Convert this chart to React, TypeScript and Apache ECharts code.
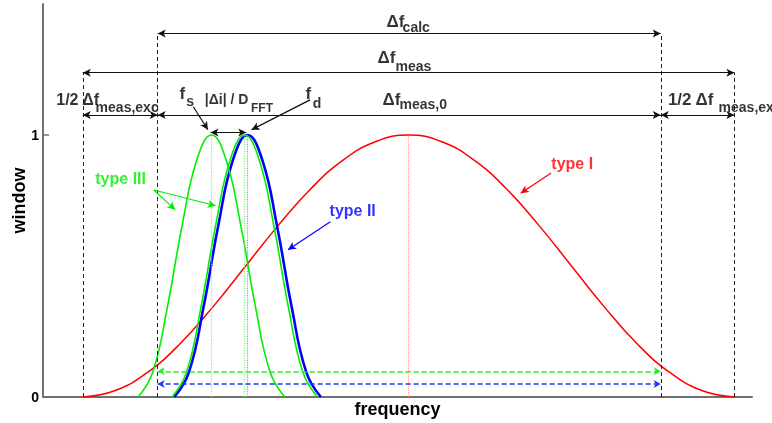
import React, { useEffect, useRef } from 'react';
import * as echarts from 'echarts';

// ---- data (frequency in arbitrary units, window 0..1) ----
const xRange = [-6.1, 102.7];
const yRange = [0, 1.5];
const yTicks = [0, 1];

// type I window (red)
const redX = [0, 5, 10, 15, 20, 25, 30, 35, 40, 45, 50, 55, 60, 65, 70, 75, 80, 85, 90, 95, 100];
const redY = [0, 0.025, 0.095, 0.205, 0.345, 0.5, 0.655, 0.795, 0.905, 0.975, 1, 0.975, 0.905, 0.795, 0.655, 0.5, 0.345, 0.205, 0.095, 0.025, 0];

// type II window (blue)
const blueX = [14.05, 16.3, 18.55, 20.8, 23.05, 25.3, 27.55, 29.8, 32.05, 34.3, 36.55];
const blueY = [0, 0.095, 0.345, 0.655, 0.905, 1, 0.905, 0.655, 0.345, 0.095, 0];

// type III windows (green), at f_s and at f_d
const greenSX = [8.5, 10.75, 13, 15.25, 17.5, 19.75, 22, 24.25, 26.5, 28.75, 31];
const greenSY = [0, 0.095, 0.345, 0.655, 0.905, 1, 0.905, 0.655, 0.345, 0.095, 0];
const greenDX = [13.7, 15.93, 18.16, 20.39, 22.62, 24.85, 27.08, 29.31, 31.54, 33.77, 36.0];
const greenDY = [0, 0.095, 0.345, 0.655, 0.905, 1, 0.905, 0.655, 0.345, 0.095, 0];

// band edges
const edgeOuter = [0, 100];
const edgeInner = [11.5, 88.7];
const levelCalc = 1.387;
const levelMeas = 1.238;
const levelRow = 1.076;
const levelDi = 1.01;
const levelGreen = 0.098;
const levelBlue = 0.05;

// centres (dotted lines)
const centreRed = 50;
const centreGreenS = 19.75;
const centreGreenD = 24.85;
const centreBlue = 25.3;

// ---- annotation geometry (data coordinates) ----
type Seg = [number, number, number, number];
const blackDouble: Seg[] = [
  [edgeInner[0], levelCalc, edgeInner[1], levelCalc],
  [edgeOuter[0], levelMeas, edgeOuter[1], levelMeas],
  [edgeOuter[0], levelRow, edgeInner[0], levelRow],
  [edgeInner[0], levelRow, edgeInner[1], levelRow],
  [edgeInner[1], levelRow, edgeOuter[1], levelRow],
  [19.6, levelDi, 25.1, levelDi],
];
const blackSingle: Seg[] = [
  [16.97, 1.108, 19.2, 1.02],
  [34.88, 1.134, 25.9, 1.02],
];
const dashedEdges: Seg[] = [
  [edgeOuter[0], 0, edgeOuter[0], levelMeas],
  [edgeInner[0], 0, edgeInner[0], levelCalc],
  [edgeInner[1], 0, edgeInner[1], levelCalc],
  [edgeOuter[1], 0, edgeOuter[1], levelMeas],
];
const greenArrows: Seg[] = [
  [10.9, 0.79, 14.2, 0.715],
  [10.9, 0.79, 20.4, 0.73],
];
const blueArrows: Seg[] = [[38.0, 0.669, 31.5, 0.562]];
const redArrows: Seg[] = [[71.87, 0.855, 67.2, 0.778]];
const greenDashed: Seg[] = [[edgeInner[0], levelGreen, edgeInner[1], levelGreen]];
const blueDashed: Seg[] = [[edgeInner[0], levelBlue, edgeInner[1], levelBlue]];

// ---- text annotations (data coordinates, left aligned, middle) ----
type Lbl = { t: string; x: number; y: number; s: number; c: string };
const BIG = 17;
const SUB = 14;
const labels: Lbl[] = [
  { t: 'Δf', x: 46.7, y: 1.433, s: BIG, c: '#000' },
  { t: 'calc', x: 49.16, y: 1.412, s: SUB, c: '#000' },
  { t: 'Δf', x: 45.32, y: 1.292, s: BIG, c: '#000' },
  { t: 'meas', x: 48.08, y: 1.261, s: SUB, c: '#000' },
  { t: 'Δf', x: 46.09, y: 1.134, s: BIG, c: '#000' },
  { t: 'meas,0', x: 48.69, y: 1.115, s: SUB, c: '#000' },
  { t: '1/2 Δf', x: -3.99, y: 1.135, s: 16, c: '#000' },
  { t: 'meas,exc', x: 2.05, y: 1.105, s: SUB, c: '#000' },
  { t: '1/2 Δf', x: 89.87, y: 1.134, s: BIG, c: '#000' },
  { t: 'meas,exc', x: 97.65, y: 1.105, s: SUB, c: '#000' },
  { t: 'f', x: 14.93, y: 1.158, s: BIG, c: '#000' },
  { t: 's', x: 15.96, y: 1.126, s: SUB, c: '#000' },
  { t: '|Δi| / D', x: 18.8, y: 1.134, s: 14, c: '#000' },
  { t: 'FFT', x: 25.9, y: 1.103, s: 12, c: '#000' },
  { t: 'f', x: 34.27, y: 1.155, s: BIG, c: '#000' },
  { t: 'd', x: 35.39, y: 1.122, s: SUB, c: '#000' },
  { t: 'type III', x: 2.0, y: 0.832, s: 16, c: '#00ee00' },
  { t: 'type II', x: 37.95, y: 0.71, s: 16, c: '#0000ff' },
  { t: 'type I', x: 71.98, y: 0.891, s: 16, c: '#ff0000' },
];

const FONT = '"Liberation Sans", Arial, Helvetica, sans-serif';
const zip = (xs: number[], ys: number[]) => xs.map((x, i) => [x, ys[i]]);

function markSeries(segs: Seg[], color: string, type: any, width: number, symbol: string[], size: number[] = [7, 9], opacity = 1) {
  return {
    type: 'line',
    data: [],
    silent: true,
    markLine: {
      silent: true,
      animation: false,
      symbol,
      symbolSize: size,
      label: { show: false },
      emphasis: { disabled: true },
      lineStyle: { color, type, width, opacity },
      itemStyle: { color },
      data: segs.map(([x1, y1, x2, y2]) => [{ coord: [x1, y1] }, { coord: [x2, y2] }]),
    },
  };
}

function curve(xs: number[], ys: number[], color: string, width: number) {
  return {
    type: 'line',
    data: zip(xs, ys),
    smooth: 0.45,
    showSymbol: false,
    symbol: 'none',
    silent: true,
    lineStyle: { color, width },
    itemStyle: { color },
  };
}

const vertical = (x: number): Seg => [x, 0, x, 1];

export default function App() {
  const ref = useRef<HTMLDivElement>(null);
  useEffect(() => {
    const chart = echarts.init(ref.current!, null, { renderer: 'svg' });
    const axisGray = '#707070';
    const option: any = {
      animation: false,
      grid: { left: 43, right: 20, top: 4, bottom: 26, outerBoundsMode: 'none' },
      xAxis: {
        type: 'value',
        min: xRange[0],
        max: xRange[1],
        axisLine: { show: true, onZero: false, lineStyle: { color: axisGray, width: 2 } },
        axisTick: { show: false },
        axisLabel: { show: false },
        splitLine: { show: false },
        name: 'frequency',
        nameLocation: 'middle',
        nameGap: 3,
        nameMoveOverlap: false,
        nameTextStyle: { fontFamily: FONT, fontWeight: 'bold', fontSize: 18, color: '#000', verticalAlign: 'top' },
      },
      yAxis: {
        type: 'value',
        min: yRange[0],
        max: yRange[1],
        axisLine: { show: true, onZero: false, lineStyle: { color: axisGray, width: 2 } },
        axisTick: { show: true, inside: true, length: 6, customValues: yTicks, lineStyle: { color: axisGray, width: 1.5 } },
        axisLabel: {
          customValues: yTicks,
          margin: 4,
          fontFamily: FONT,
          fontWeight: 'bold',
          fontSize: 14,
          color: '#000',
        },
        splitLine: { show: false },
        name: 'window',
        nameLocation: 'middle',
        nameRotate: 90,
        nameGap: 15,
        nameMoveOverlap: false,
        nameTextStyle: { fontFamily: FONT, fontWeight: 'bold', fontSize: 18, color: '#000' },
      },
      series: [
        markSeries([vertical(centreRed)], '#ff8080', 'dotted', 1, ['none', 'none'], [0, 0], 0.8),
        markSeries([vertical(centreGreenS)], '#80ee80', 'dotted', 1.2, ['none', 'none'], [0, 0], 0.9),
        markSeries([vertical(centreBlue)], '#8080ff', 'dotted', 1.2, ['none', 'none'], [0, 0], 0.9),
        markSeries([vertical(centreGreenD)], '#80ee80', 'dotted', 1.2, ['none', 'none'], [0, 0], 0.9),
        markSeries(dashedEdges, '#222', [4, 3], 1, ['none', 'none'], [0, 0]),
        curve(redX, redY, '#ff0000', 1.5),
        curve(blueX, blueY, '#0000ff', 2.6),
        curve(greenSX, greenSY, '#00ee00', 1.6),
        curve(greenDX, greenDY, '#00ee00', 1.6),
        markSeries(blackDouble, '#111', 'solid', 1.2, ['arrow', 'arrow'], [6, 8]),
        markSeries(blackSingle, '#111', 'solid', 1.2, ['none', 'arrow'], [6, 8]),
        markSeries(greenArrows, '#00ee00', 'solid', 1.2, ['none', 'arrow'], [6, 8]),
        markSeries(blueArrows, '#0000ff', 'solid', 1.2, ['none', 'arrow'], [6, 8]),
        markSeries(redArrows, '#ff0000', 'solid', 1.2, ['none', 'arrow'], [6, 8]),
        markSeries(greenDashed, '#22ee22', [5, 3], 1.5, ['arrow', 'arrow'], [6, 7]),
        markSeries(blueDashed, '#2233ff', [5, 3], 1.5, ['arrow', 'arrow'], [6, 7]),
        {
          type: 'scatter',
          silent: true,
          clip: false,
          z: 10,
          symbolSize: 1,
          itemStyle: { color: 'rgba(0,0,0,0)' },
          data: labels.map((l) => ({
            value: [l.x, l.y],
            label: {
              show: true,
              formatter: l.t,
              position: [0, 0],
              align: 'left',
              verticalAlign: 'middle',
              fontFamily: FONT,
              fontWeight: 'bold',
              fontSize: l.s,
              color: l.c,
            },
          })),
          labelLayout: { hideOverlap: false },
        },
      ],
    };
    chart.setOption(option);
    return () => chart.dispose();
  }, []);
  return <div ref={ref} style={{ position: 'fixed', left: 0, top: 0, width: 772, height: 423 }} />;
}
